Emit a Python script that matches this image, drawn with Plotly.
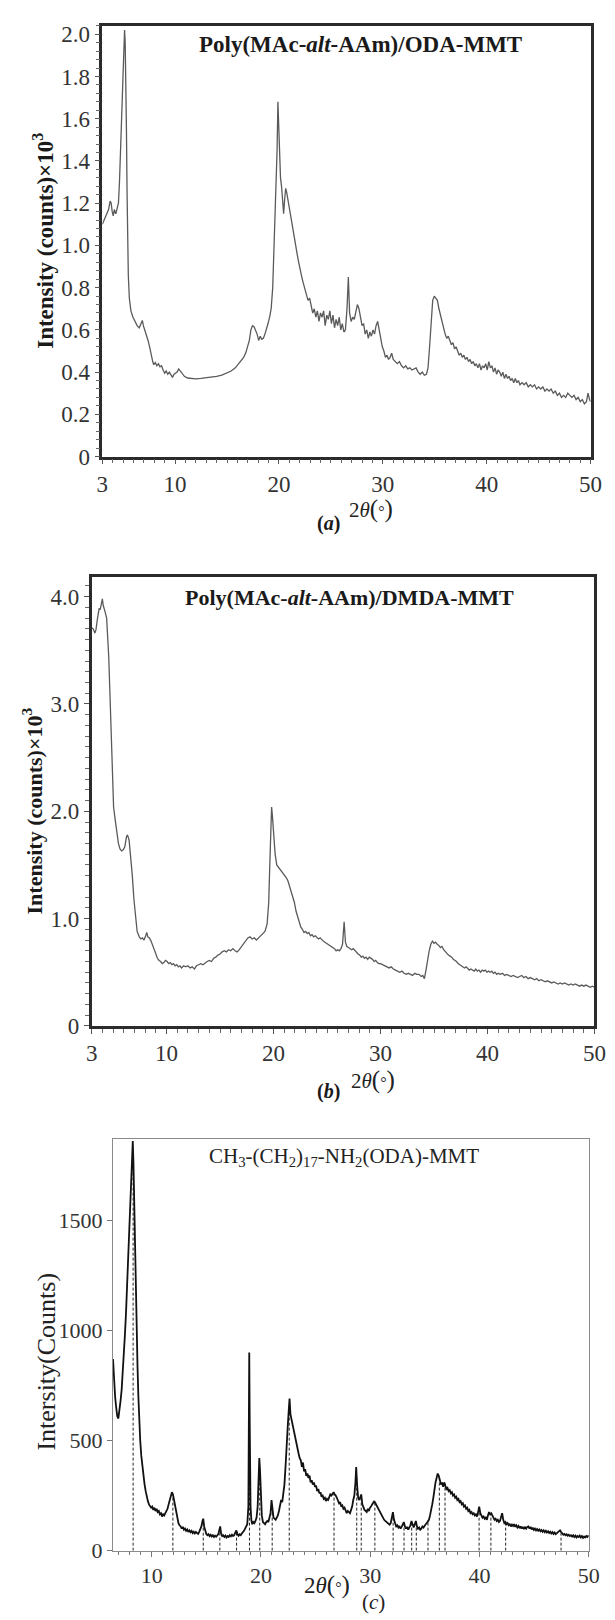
import plotly.graph_objects as go

W, H = 615, 1620
SERIF = "Liberation Serif, Times New Roman, serif"

# ---- panel (a): Poly(MAc-alt-AAm)/ODA-MMT, intensity x10^3 ----
a_x = [3.00, 3.15, 3.30, 3.45, 3.60, 3.75, 3.85, 3.95, 4.05, 4.15,
       4.30, 4.45, 4.55, 4.65, 4.75, 4.85, 4.95, 5.02, 5.08, 5.14,
       5.20, 5.26, 5.32, 5.38, 5.44, 5.50, 5.60, 5.75, 5.95, 6.15,
       6.35, 6.55, 6.70, 6.85, 6.95, 7.10, 7.25, 7.40, 7.55, 7.70,
       7.85, 7.95, 8.10, 8.25, 8.40, 8.55, 8.70, 8.85, 9.00, 9.15,
       9.30, 9.45, 9.60, 9.75, 9.90, 10.05, 10.20, 10.35, 10.50, 10.70,
       10.90, 11.20, 11.60, 12.00, 12.50, 13.00, 13.50, 14.00, 14.50, 15.00,
       15.40, 15.80, 16.10, 16.40, 16.60, 16.80, 17.00, 17.15, 17.30, 17.45,
       17.60, 17.75, 17.90, 18.05, 18.20, 18.35, 18.50, 18.65, 18.80, 18.95,
       19.10, 19.25, 19.40, 19.55, 19.70, 19.82, 19.90, 19.97, 20.05, 20.15,
       20.25, 20.35, 20.45, 20.55, 20.65, 20.75, 20.85, 21.00, 21.15, 21.30,
       21.45, 21.60, 21.75, 21.90, 22.05, 22.20, 22.35, 22.50, 22.65, 22.80,
       22.95, 23.10, 23.25, 23.40, 23.55, 23.70, 23.85, 24.00, 24.15, 24.30,
       24.45, 24.60, 24.75, 24.90, 25.05, 25.20, 25.35, 25.50, 25.65, 25.80,
       25.95, 26.10, 26.25, 26.40, 26.55, 26.68, 26.80, 26.95, 27.10, 27.25,
       27.40, 27.55, 27.70, 27.85, 28.00, 28.15, 28.30, 28.45, 28.60, 28.75,
       28.90, 29.05, 29.20, 29.35, 29.50, 29.65, 29.80, 29.95, 30.10, 30.25,
       30.40, 30.55, 30.70, 30.85, 31.00, 31.20, 31.40, 31.60, 31.80, 32.00,
       32.20, 32.40, 32.60, 32.80, 33.00, 33.20, 33.40, 33.60, 33.80, 34.00,
       34.20, 34.35, 34.50, 34.65, 34.80, 34.95, 35.10, 35.25, 35.40, 35.55,
       35.70, 35.85, 36.00, 36.15, 36.30, 36.45, 36.60, 36.75, 36.90, 37.05,
       37.20, 37.35, 37.50, 37.65, 37.80, 37.95, 38.10, 38.25, 38.40, 38.55,
       38.70, 38.85, 39.00, 39.15, 39.30, 39.45, 39.60, 39.75, 39.90, 40.05,
       40.20, 40.35, 40.50, 40.65, 40.80, 40.95, 41.10, 41.25, 41.40, 41.55,
       41.70, 41.85, 42.00, 42.15, 42.30, 42.45, 42.60, 42.75, 42.90, 43.05,
       43.20, 43.40, 43.60, 43.80, 44.00, 44.20, 44.40, 44.60, 44.80, 45.00,
       45.20, 45.40, 45.60, 45.80, 46.00, 46.20, 46.40, 46.60, 46.80, 47.00,
       47.20, 47.40, 47.60, 47.80, 48.00, 48.20, 48.40, 48.60, 48.80, 49.00,
       49.20, 49.40, 49.60, 49.75, 49.90, 50.00]
a_y = [1.10, 1.12, 1.13, 1.15, 1.17, 1.21, 1.20, 1.16, 1.14, 1.17,
       1.15, 1.18, 1.20, 1.30, 1.45, 1.62, 1.80, 1.84, 1.97, 2.02,
       1.96, 1.82, 1.55, 1.25, 1.00, 0.86, 0.75, 0.69, 0.66, 0.64,
       0.62, 0.61, 0.63, 0.645, 0.62, 0.60, 0.57, 0.55, 0.52, 0.48,
       0.45, 0.435, 0.445, 0.43, 0.44, 0.425, 0.43, 0.41, 0.395, 0.405,
       0.39, 0.40, 0.385, 0.375, 0.39, 0.395, 0.40, 0.415, 0.405, 0.39,
       0.38, 0.372, 0.370, 0.368, 0.370, 0.373, 0.376, 0.380, 0.386, 0.395,
       0.405, 0.42, 0.44, 0.455, 0.47, 0.49, 0.52, 0.55, 0.60, 0.62,
       0.615, 0.60, 0.58, 0.55, 0.57, 0.555, 0.56, 0.58, 0.60, 0.63,
       0.66, 0.70, 0.80, 1.00, 1.25, 1.45, 1.68, 1.55, 1.38, 1.32,
       1.28, 1.20, 1.15, 1.22, 1.27, 1.25, 1.22, 1.18, 1.12, 1.08,
       1.04, 1.00, 0.96, 0.92, 0.88, 0.85, 0.82, 0.79, 0.76, 0.74,
       0.75, 0.72, 0.68, 0.70, 0.66, 0.69, 0.64, 0.68, 0.66, 0.69,
       0.62, 0.67, 0.65, 0.69, 0.63, 0.67, 0.61, 0.65, 0.62, 0.66,
       0.60, 0.63, 0.59, 0.60, 0.70, 0.85, 0.68, 0.64, 0.66, 0.65,
       0.68, 0.72, 0.70, 0.65, 0.62, 0.63, 0.58, 0.60, 0.56, 0.59,
       0.57, 0.60, 0.58, 0.62, 0.64, 0.60, 0.55, 0.52, 0.50, 0.47,
       0.48, 0.46, 0.47, 0.49, 0.46, 0.45, 0.44, 0.45, 0.43, 0.42,
       0.43, 0.415, 0.42, 0.41, 0.415, 0.42, 0.40, 0.39, 0.40, 0.385,
       0.39, 0.42, 0.52, 0.65, 0.74, 0.76, 0.75, 0.74, 0.70, 0.67,
       0.64, 0.60, 0.58, 0.56, 0.57, 0.55, 0.53, 0.54, 0.51, 0.52,
       0.50, 0.48, 0.49, 0.47, 0.48, 0.46, 0.47, 0.45, 0.46, 0.44,
       0.45, 0.43, 0.44, 0.42, 0.44, 0.41, 0.43, 0.42, 0.44, 0.41,
       0.45, 0.42, 0.43, 0.40, 0.42, 0.39, 0.41, 0.40, 0.38, 0.40,
       0.37, 0.39, 0.37, 0.38, 0.36, 0.37, 0.35, 0.37, 0.35, 0.36,
       0.34, 0.35, 0.34, 0.35, 0.33, 0.34, 0.33, 0.34, 0.32, 0.33,
       0.32, 0.33, 0.31, 0.32, 0.31, 0.32, 0.30, 0.31, 0.29, 0.30,
       0.28, 0.29, 0.28, 0.30, 0.29, 0.28, 0.29, 0.27, 0.28, 0.26,
       0.27, 0.25, 0.26, 0.30, 0.27, 0.26]

# ---- panel (b): Poly(MAc-alt-AAm)/DMDA-MMT, intensity x10^3 ----
b_x = [3.00, 3.15, 3.30, 3.40, 3.55, 3.70, 3.80, 3.90, 4.00, 4.08,
       4.15, 4.25, 4.40, 4.50, 4.60, 4.75, 4.90, 5.05, 5.20, 5.35,
       5.50, 5.65, 5.80, 5.95, 6.10, 6.25, 6.35, 6.50, 6.65, 6.80,
       6.95, 7.10, 7.25, 7.45, 7.60, 7.75, 7.90, 8.05, 8.15, 8.25,
       8.40, 8.55, 8.70, 8.85, 9.00, 9.15, 9.30, 9.45, 9.60, 9.75,
       9.90, 10.05, 10.20, 10.35, 10.50, 10.65, 10.80, 10.95, 11.10, 11.25,
       11.40, 11.60, 11.80, 12.00, 12.20, 12.40, 12.60, 12.80, 13.00, 13.20,
       13.40, 13.60, 13.80, 14.00, 14.20, 14.40, 14.60, 14.80, 15.00, 15.20,
       15.40, 15.60, 15.80, 16.00, 16.20, 16.40, 16.60, 16.80, 17.00, 17.20,
       17.40, 17.60, 17.80, 18.00, 18.20, 18.40, 18.60, 18.80, 19.00, 19.20,
       19.40, 19.55, 19.65, 19.75, 19.82, 19.90, 20.00, 20.15, 20.30, 20.45,
       20.60, 20.75, 20.90, 21.05, 21.20, 21.35, 21.50, 21.65, 21.80, 21.95,
       22.10, 22.25, 22.40, 22.55, 22.70, 22.85, 23.00, 23.15, 23.30, 23.45,
       23.60, 23.75, 23.90, 24.05, 24.20, 24.35, 24.50, 24.65, 24.80, 24.95,
       25.10, 25.25, 25.40, 25.55, 25.70, 25.85, 26.00, 26.15, 26.30, 26.45,
       26.60, 26.72, 26.85, 27.00, 27.15, 27.30, 27.45, 27.60, 27.75, 27.90,
       28.05, 28.20, 28.35, 28.50, 28.65, 28.80, 28.95, 29.10, 29.25, 29.40,
       29.55, 29.70, 29.85, 30.00, 30.20, 30.40, 30.60, 30.80, 31.00, 31.20,
       31.40, 31.60, 31.80, 32.00, 32.20, 32.40, 32.60, 32.80, 33.00, 33.20,
       33.40, 33.60, 33.80, 33.95, 34.10, 34.25, 34.40, 34.55, 34.70, 34.85,
       35.00, 35.15, 35.30, 35.45, 35.60, 35.75, 35.90, 36.05, 36.20, 36.35,
       36.50, 36.65, 36.80, 36.95, 37.10, 37.25, 37.40, 37.55, 37.70, 37.85,
       38.00, 38.15, 38.30, 38.45, 38.60, 38.75, 38.90, 39.05, 39.20, 39.35,
       39.50, 39.65, 39.80, 39.95, 40.10, 40.25, 40.40, 40.55, 40.70, 40.85,
       41.00, 41.20, 41.40, 41.60, 41.80, 42.00, 42.20, 42.40, 42.60, 42.80,
       43.00, 43.20, 43.40, 43.60, 43.80, 44.00, 44.20, 44.40, 44.60, 44.80,
       45.00, 45.20, 45.40, 45.60, 45.80, 46.00, 46.20, 46.40, 46.60, 46.80,
       47.00, 47.20, 47.40, 47.60, 47.80, 48.00, 48.20, 48.40, 48.60, 48.80,
       49.00, 49.20, 49.40, 49.60, 49.80, 50.00]
b_y = [3.71, 3.70, 3.66, 3.69, 3.80, 3.89, 3.88, 3.93, 3.98, 3.92,
       3.90, 3.86, 3.80, 3.65, 3.43, 2.97, 2.47, 2.04, 1.92, 1.82,
       1.70, 1.65, 1.63, 1.64, 1.67, 1.76, 1.78, 1.73, 1.58, 1.40,
       1.18, 1.00, 0.88, 0.83, 0.81, 0.82, 0.80, 0.84, 0.87, 0.83,
       0.82, 0.79, 0.75, 0.70, 0.67, 0.63, 0.61, 0.60, 0.58, 0.59,
       0.61, 0.60, 0.58, 0.59, 0.57, 0.58, 0.56, 0.57, 0.55, 0.56,
       0.54, 0.56, 0.55, 0.56, 0.54, 0.55, 0.53, 0.56, 0.57, 0.58,
       0.57, 0.59, 0.60, 0.61, 0.60, 0.63, 0.64, 0.66, 0.67, 0.69,
       0.70, 0.69, 0.71, 0.70, 0.72, 0.70, 0.69, 0.71, 0.74, 0.77,
       0.80, 0.82, 0.83, 0.81, 0.82, 0.80, 0.82, 0.84, 0.86, 0.88,
       0.95, 1.15, 1.50, 1.85, 2.04, 1.95, 1.78, 1.60, 1.50, 1.48,
       1.46, 1.44, 1.43, 1.40, 1.38, 1.35, 1.30, 1.27, 1.22, 1.15,
       1.07, 1.02, 0.96, 0.92, 0.90, 0.87, 0.88, 0.86, 0.87, 0.84,
       0.85, 0.83, 0.84, 0.82, 0.81, 0.82, 0.80, 0.79, 0.78, 0.77,
       0.76, 0.75, 0.74, 0.73, 0.72, 0.70, 0.71, 0.70, 0.72, 0.76,
       0.97, 0.78, 0.74, 0.73, 0.72, 0.71, 0.72, 0.70, 0.68, 0.67,
       0.66, 0.64, 0.65, 0.63, 0.64, 0.62, 0.64, 0.63, 0.62, 0.60,
       0.61, 0.59, 0.58, 0.58, 0.57, 0.56, 0.55, 0.54, 0.55, 0.53,
       0.52, 0.51, 0.50, 0.51, 0.49, 0.48, 0.49, 0.48, 0.47, 0.49,
       0.48, 0.48, 0.46, 0.47, 0.44, 0.52, 0.62, 0.70, 0.76, 0.79,
       0.77, 0.78, 0.76, 0.75, 0.73, 0.74, 0.71, 0.69, 0.68, 0.66,
       0.65, 0.64, 0.62, 0.61, 0.60, 0.58, 0.57, 0.56, 0.55, 0.54,
       0.55, 0.53, 0.52, 0.53, 0.52, 0.51, 0.53, 0.51, 0.52, 0.50,
       0.52, 0.51, 0.52, 0.50, 0.51, 0.50, 0.51, 0.49, 0.50, 0.48,
       0.49, 0.48, 0.49, 0.47, 0.48, 0.47, 0.46, 0.47, 0.46, 0.45,
       0.46, 0.47, 0.45, 0.46, 0.44, 0.45, 0.44, 0.43, 0.44, 0.42,
       0.43, 0.42, 0.41, 0.42, 0.41, 0.40, 0.41, 0.40, 0.39, 0.40,
       0.39, 0.40, 0.39, 0.38, 0.39, 0.38, 0.39, 0.38, 0.37, 0.38,
       0.37, 0.38, 0.37, 0.36, 0.37, 0.36]

# ---- panel (c): CH3-(CH2)17-NH2(ODA)-MMT, counts ----
c_x = [6.46, 6.55, 6.65, 6.75, 6.85, 6.95, 7.05, 7.15, 7.25, 7.35,
       7.45, 7.55, 7.65, 7.75, 7.85, 7.95, 8.05, 8.12, 8.20, 8.27,
       8.33, 8.40, 8.47, 8.55, 8.62, 8.70, 8.78, 8.86, 8.95, 9.05,
       9.15, 9.25, 9.35, 9.45, 9.55, 9.65, 9.75, 9.85, 9.95, 10.05,
       10.15, 10.25, 10.35, 10.45, 10.55, 10.65, 10.75, 10.85, 10.95, 11.05,
       11.15, 11.25, 11.35, 11.45, 11.55, 11.65, 11.75, 11.85, 11.95, 12.05,
       12.15, 12.25, 12.35, 12.45, 12.55, 12.65, 12.75, 12.85, 12.95, 13.05,
       13.15, 13.25, 13.35, 13.45, 13.55, 13.65, 13.75, 13.85, 13.95, 14.05,
       14.15, 14.25, 14.35, 14.45, 14.55, 14.65, 14.72, 14.80, 14.90, 15.00,
       15.10, 15.20, 15.30, 15.40, 15.50, 15.60, 15.70, 15.80, 15.90, 16.00,
       16.10, 16.20, 16.27, 16.35, 16.45, 16.55, 16.65, 16.75, 16.85, 16.95,
       17.05, 17.15, 17.25, 17.35, 17.45, 17.55, 17.65, 17.75, 17.85, 17.95,
       18.05, 18.15, 18.25, 18.35, 18.45, 18.55, 18.65, 18.75, 18.85, 18.90,
       18.93, 18.97, 19.00, 19.05, 19.12, 19.20, 19.30, 19.40, 19.50, 19.60,
       19.70, 19.78, 19.85, 19.92, 20.00, 20.08, 20.18, 20.28, 20.38, 20.48,
       20.58, 20.68, 20.78, 20.88, 20.97, 21.05, 21.15, 21.25, 21.35, 21.45,
       21.55, 21.65, 21.75, 21.85, 21.95, 22.05, 22.15, 22.25, 22.35, 22.45,
       22.55, 22.62, 22.70, 22.78, 22.86, 22.95, 23.05, 23.15, 23.25, 23.35,
       23.45, 23.55, 23.65, 23.75, 23.85, 23.95, 24.05, 24.15, 24.25, 24.35,
       24.45, 24.55, 24.65, 24.75, 24.85, 24.95, 25.05, 25.15, 25.25, 25.35,
       25.45, 25.55, 25.65, 25.75, 25.85, 25.95, 26.05, 26.15, 26.25, 26.35,
       26.45, 26.55, 26.65, 26.75, 26.85, 26.95, 27.05, 27.15, 27.25, 27.35,
       27.45, 27.55, 27.65, 27.75, 27.85, 27.95, 28.05, 28.15, 28.25, 28.35,
       28.45, 28.55, 28.65, 28.72, 28.80, 28.90, 29.00, 29.10, 29.18, 29.28,
       29.38, 29.48, 29.58, 29.68, 29.78, 29.88, 29.98, 30.08, 30.18, 30.28,
       30.38, 30.48, 30.58, 30.68, 30.78, 30.88, 30.98, 31.08, 31.18, 31.28,
       31.38, 31.48, 31.58, 31.68, 31.78, 31.88, 31.98, 32.08, 32.18, 32.28,
       32.38, 32.48, 32.58, 32.68, 32.78, 32.88, 32.98, 33.08, 33.18, 33.28,
       33.38, 33.48, 33.58, 33.68, 33.78, 33.88, 33.98, 34.08, 34.18, 34.28,
       34.38, 34.48, 34.58, 34.68, 34.78, 34.88, 34.98, 35.08, 35.18, 35.28,
       35.38, 35.48, 35.58, 35.68, 35.78, 35.88, 35.98, 36.08, 36.18, 36.28,
       36.38, 36.48, 36.58, 36.68, 36.78, 36.88, 36.98, 37.08, 37.18, 37.28,
       37.38, 37.48, 37.58, 37.68, 37.78, 37.88, 37.98, 38.08, 38.18, 38.28,
       38.38, 38.48, 38.58, 38.68, 38.78, 38.88, 38.98, 39.08, 39.18, 39.28,
       39.38, 39.48, 39.58, 39.68, 39.78, 39.88, 39.98, 40.08, 40.18, 40.28,
       40.38, 40.48, 40.58, 40.68, 40.78, 40.88, 40.98, 41.08, 41.18, 41.28,
       41.38, 41.48, 41.58, 41.68, 41.78, 41.88, 41.98, 42.08, 42.18, 42.28,
       42.38, 42.48, 42.58, 42.68, 42.78, 42.88, 42.98, 43.08, 43.18, 43.28,
       43.38, 43.48, 43.58, 43.68, 43.78, 43.88, 43.98, 44.08, 44.18, 44.28,
       44.38, 44.48, 44.58, 44.68, 44.78, 44.88, 44.98, 45.08, 45.18, 45.28,
       45.38, 45.48, 45.58, 45.68, 45.78, 45.88, 45.98, 46.08, 46.18, 46.28,
       46.38, 46.48, 46.58, 46.68, 46.78, 46.88, 46.98, 47.08, 47.18, 47.28,
       47.38, 47.48, 47.58, 47.68, 47.78, 47.88, 47.98, 48.08, 48.18, 48.28,
       48.38, 48.48, 48.58, 48.68, 48.78, 48.88, 48.98, 49.08, 49.18, 49.28,
       49.38, 49.48, 49.58, 49.68, 49.78, 49.88, 49.98, 50.00]
c_y = [870, 780, 700, 650, 610, 600, 630, 680, 730, 800,
       880, 980, 1080, 1200, 1330, 1480, 1600, 1700, 1780, 1860,
       1760, 1560, 1380, 1180, 1000, 840, 700, 590, 500, 430,
       380, 340, 300, 270, 240, 225, 210, 200, 195, 200,
       185, 195, 180, 190, 175, 180, 165, 170, 155, 165,
       160, 170, 180, 190, 210, 230, 250, 265, 255, 230,
       200, 165, 140, 125, 115, 110, 100, 108, 95, 100,
       90, 96, 85, 92, 84, 90, 80, 86, 78, 85,
       80, 76, 85, 95, 110, 135, 145, 110, 85, 75,
       70, 75, 66, 72, 64, 70, 62, 68, 63, 70,
       75, 95, 110, 80, 66, 70, 62, 68, 60, 66,
       62, 70, 65, 72, 66, 70, 80, 92, 75, 68,
       74, 70, 78, 82, 90, 100, 110, 120, 200, 600,
       900, 600, 380, 200, 140, 120, 130, 125, 135, 150,
       200, 300, 420, 360, 240, 160, 130, 125, 120, 130,
       135, 130, 145, 170, 230, 180, 150, 145, 140, 150,
       160, 180, 200, 230, 220, 250, 300, 380, 450, 560,
       640, 690, 620, 600, 580, 560, 540, 500, 480, 450,
       440, 420, 410, 380, 400, 360, 370, 340, 350, 330,
       340, 310, 320, 300, 310, 290, 295, 270, 280, 260,
       265, 245, 250, 235, 240, 225, 235, 230, 240, 255,
       250, 260, 265, 255, 250, 240, 225, 215, 220, 200,
       205, 190, 195, 180, 170, 180, 175, 170, 185, 200,
       230, 250, 310, 380, 300, 240, 230, 250, 255, 210,
       195, 185, 180, 175, 190, 180, 195, 200, 210, 220,
       225, 215, 205, 200, 190, 175, 165, 155, 150, 140,
       135, 130, 125, 120, 118, 125, 150, 175, 140, 120,
       110, 115, 105, 112, 100, 108, 120, 130, 110, 100,
       108, 95, 105, 115, 135, 115, 105, 120, 135, 110,
       100, 105, 95, 100, 110, 105, 115, 120, 125, 135,
       140, 160, 180, 210, 240, 280, 310, 330, 350, 340,
       320, 300, 310, 290, 310, 295, 280, 285, 270, 275,
       260, 265, 250, 255, 240, 245, 230, 235, 220, 225,
       210, 215, 200, 205, 190, 195, 180, 185, 170, 175,
       165, 170, 160, 165, 155, 175, 200, 170, 160, 150,
       155, 145, 150, 140, 160, 175, 165, 170, 160, 150,
       140, 145, 135, 140, 130, 135, 150, 170, 140, 125,
       130, 120, 125, 115, 120, 110, 118, 112, 120, 108,
       115, 105, 112, 102, 110, 100, 108, 98, 106, 100,
       108, 110, 100, 108, 96, 104, 94, 100, 92, 98,
       90, 96, 88, 94, 86, 92, 84, 90, 82, 88,
       80, 86, 78, 84, 76, 82, 75, 80, 84, 90,
       92, 85, 78, 72, 76, 70, 74, 68, 72, 66,
       70, 64, 70, 62, 68, 60, 66, 62, 68, 60,
       66, 58, 64, 60, 66, 62, 68, 70]

# reference peak markers (dashed drop lines) in panel (c)
c_peak_x = [8.30, 11.94, 14.72, 16.24, 17.77, 18.95, 19.89, 21.03, 22.59, 26.69,
            28.77, 29.18, 30.43, 32.10, 33.10, 33.80, 34.22, 35.29, 36.33, 36.85,
            39.97, 41.05, 42.40, 47.47]
c_peak_y = [1790, 255, 140, 100, 88, 600, 380, 200, 660, 260,
            340, 250, 220, 160, 125, 130, 125, 135, 330, 300,
            190, 165, 125, 85]

a_ticks = [0, 0.2, 0.4, 0.6, 0.8, 1.0, 1.2, 1.4, 1.6, 1.8, 2.0]
a_ticktext = ["0", "0.2", "0.4", "0.6", "0.8", "1.0", "1.2", "1.4", "1.6", "1.8", "2.0"]
b_ticks = [0, 1, 2, 3, 4]
b_ticktext = ["0", "1.0", "2.0", "3.0", "4.0"]
ab_xticks = [3, 10, 20, 30, 40, 50]
c_xticks = [10, 20, 30, 40, 50]
c_yticks = [0, 500, 1000, 1500]


def px(x):
    return x / W


def py(y):
    return 1 - y / H


fig = go.Figure()
fig.add_trace(go.Scatter(x=a_x, y=a_y, mode="lines", xaxis="x", yaxis="y",
                         line=dict(color="#5a5a5a", width=1.3)))
fig.add_trace(go.Scatter(x=b_x, y=b_y, mode="lines", xaxis="x2", yaxis="y2",
                         line=dict(color="#5a5a5a", width=1.3)))

drop_x, drop_y = [], []
for xv, yv in zip(c_peak_x, c_peak_y):
    drop_x += [xv, xv, None]
    drop_y += [0, yv, None]
fig.add_trace(go.Scatter(x=drop_x, y=drop_y, mode="lines", xaxis="x3", yaxis="y3",
                         line=dict(color="#222", width=1, dash="3px,2px")))
fig.add_trace(go.Scatter(x=c_x, y=c_y, mode="lines", xaxis="x3", yaxis="y3",
                         line=dict(color="#111", width=1.8)))

heavy = dict(showline=True, linecolor="#2b2b2b", linewidth=2.6, mirror=True,
             showgrid=False, zeroline=False, ticks="outside", ticklen=5,
             tickcolor="#555", tickwidth=1.2,
             tickfont=dict(family=SERIF, size=23, color="#333"))
light = dict(showline=True, linecolor="#8a8a8a", linewidth=1.3, mirror=True,
             showgrid=False, zeroline=False, ticks="outside", ticklen=5,
             tickcolor="#777", tickwidth=1,
             tickfont=dict(family=SERIF, size=22, color="#333"))

fig.update_layout(
    width=W, height=H, margin=dict(l=0, r=0, t=0, b=0),
    paper_bgcolor="white", plot_bgcolor="white", showlegend=False,
    xaxis=dict(domain=[px(91), px(594)], anchor="y", range=[3, 50],
               tickvals=ab_xticks, minor=dict(dtick=1, tick0=0, ticks="outside", ticklen=4,
                                              tickcolor="#666"), **heavy),
    yaxis=dict(domain=[py(450), py(15)], anchor="x", range=[0, 2.04],
               tickvals=a_ticks, ticktext=a_ticktext,
               minor=dict(dtick=0.04, tick0=0, ticks="outside", ticklen=4, tickcolor="#666"), **heavy),
    xaxis2=dict(domain=[px(80), px(598)], anchor="y2", range=[3, 50],
                tickvals=ab_xticks, minor=dict(dtick=1, tick0=0, ticks="outside", ticklen=4,
                                               tickcolor="#666"), **heavy),
    yaxis2=dict(domain=[py(1025), py(572)], anchor="x2", range=[0, 4.18],
                tickvals=b_ticks, ticktext=b_ticktext,
                minor=dict(dtick=0.1, tick0=0, ticks="outside", ticklen=4, tickcolor="#666"), **heavy),
    xaxis3=dict(domain=[px(102), px(592)], anchor="y3", range=[6.46, 50],
                tickvals=c_xticks, minor=dict(dtick=1, tick0=0, ticks="outside", ticklen=3,
                                              tickcolor="#777"), **light),
    yaxis3=dict(domain=[py(1555), py(1139)], anchor="x3", range=[0, 1870],
                tickvals=c_yticks, **light),
)

bold_serif = dict(family=SERIF, size=23, color="#1a1a1a")
paren = ("<span style='font-size:25px'>(</span><span style='font-size:16px'>°</span>"
         "<span style='font-size:25px'>)</span>")
ann = [
    (357, 34, "<b>Poly(MAc-<i>alt</i>-AAm)/ODA-MMT</b>", bold_serif, 0),
    (346, 592, "<b>Poly(MAc-<i>alt</i>-AAm)/DMDA-MMT</b>", dict(family=SERIF, size=22, color="#1a1a1a"), 0),
    (340, 1157, "CH<sub>3</sub>-(CH<sub>2</sub>)<sub>17</sub>-NH<sub>2</sub>(ODA)-MMT",
     dict(family=SERIF, size=21, color="#222"), 0),
    (31, 232, "<b>Intensity (counts)×10<sup>3</sup></b>", dict(family=SERIF, size=23, color="#1a1a1a"), -90),
    (19, 808, "<b>Intensity (counts)×10<sup>3</sup></b>", dict(family=SERIF, size=22, color="#1a1a1a"), -90),
    (33, 1364, "Intersity(Counts)", dict(family=SERIF, size=26, color="#222"), -90),
    (368, 503, "2<i>θ</i>" + paren, dict(family=SERIF, size=21, color="#222"), 0),
    (324, 518, "<b>(<i>a</i>)</b>", dict(family=SERIF, size=20, color="#1a1a1a"), 0),
    (370, 1080, "2<i>θ</i>" + paren, dict(family=SERIF, size=21, color="#222"), 0),
    (324, 1091, "<b>(<i>b</i>)</b>", dict(family=SERIF, size=20, color="#1a1a1a"), 0),
    (322, 1590, "2<i>θ</i>" + paren, dict(family=SERIF, size=23, color="#222"), 0),
    (370, 1607, "(<i>c</i>)", dict(family=SERIF, size=21, color="#222"), 0),
]
for x, y, text, font, ang in ann:
    fig.add_annotation(x=px(x), y=py(y), xref="paper", yref="paper", text=text,
                       showarrow=False, font=font, textangle=ang,
                       xanchor="center", yanchor="middle")

fig.write_html("out.html")
